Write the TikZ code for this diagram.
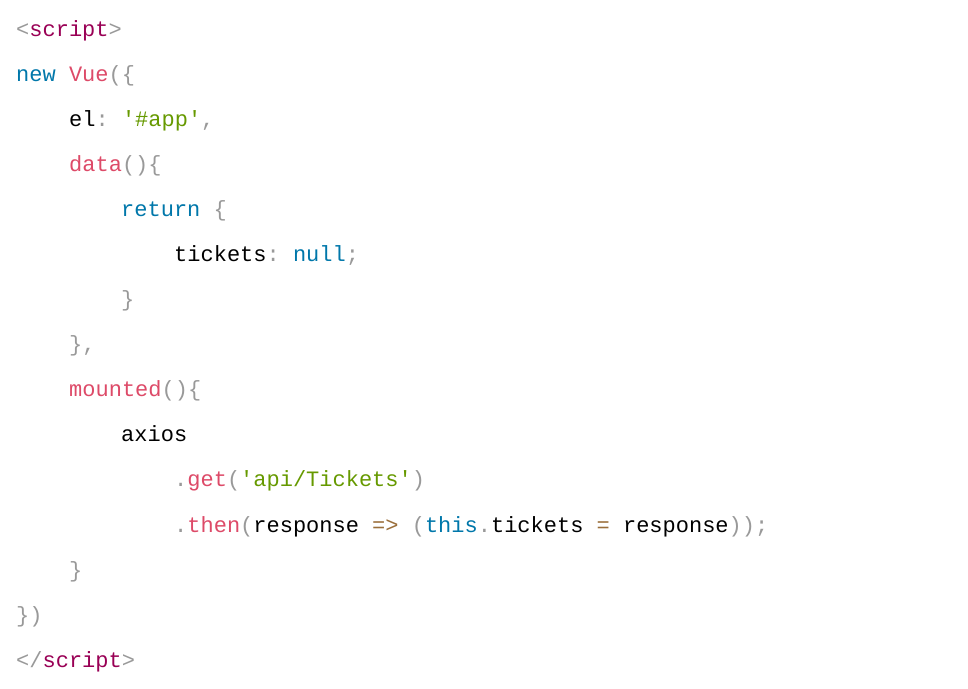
\documentclass[tikz,border=0pt]{standalone}
\usepackage{fontspec}
\setmonofont{Liberation Mono}
\definecolor{tagc}{HTML}{990055}
\definecolor{kwc}{HTML}{0077AA}
\definecolor{strc}{HTML}{669900}
\definecolor{fnc}{HTML}{DD4A68}
\definecolor{punc}{HTML}{999999}
\definecolor{opc}{HTML}{9A6E3A}
\newcommand{\tg}[1]{\textcolor{tagc}{#1}}
\newcommand{\kw}[1]{\textcolor{kwc}{#1}}
\newcommand{\st}[1]{\textcolor{strc}{#1}}
\newcommand{\fn}[1]{\textcolor{fnc}{#1}}
\newcommand{\pu}[1]{\textcolor{punc}{#1}}
\newcommand{\op}[1]{\textcolor{opc}{#1}}
\tikzset{codeline/.style={anchor=base west, inner sep=0pt,
  font=\ttfamily\fontsize{22}{22}\selectfont}}
\begin{document}
\begin{tikzpicture}[x=1pt,y=1pt]
\useasboundingbox (0,0) rectangle (968,688);
% one node per line of code
\node[codeline] (l1) at (16,651) {\pu{<}\tg{script}\pu{>}};
\node[codeline] (l2) at (16,606) {\kw{new} \fn{Vue}\pu{(\{}};
\node[codeline] (l3) at (69,561) {el\pu{:} \st{'\#app'}\pu{,}};
\node[codeline] (l4) at (69,516) {\fn{data}\pu{()\{}};
\node[codeline] (l5) at (121,471) {\kw{return} \pu{\{}};
\node[codeline] (l6) at (174,426) {tickets\pu{:} \kw{null}\pu{;}};
\node[codeline] (l7) at (121,381) {\pu{\}}};
\node[codeline] (l8) at (69,336) {\pu{\},}};
\node[codeline] (l9) at (69,291) {\fn{mounted}\pu{()\{}};
\node[codeline] (l10) at (121,246) {axios};
\node[codeline] (l11) at (174,201) {\pu{.}\fn{get}\pu{(}\st{'api/Tickets'}\pu{)}};
\node[codeline] (l12) at (174,156) {\pu{.}\fn{then}\pu{(}response \op{=>} \pu{(}\kw{this}\pu{.}tickets \op{=} response\pu{));}};
\node[codeline] (l13) at (69,111) {\pu{\}}};
\node[codeline] (l14) at (16,66) {\pu{\})}};
\node[codeline] (l15) at (16,21) {\pu{</}\tg{script}\pu{>}};
\end{tikzpicture}
\end{document}
